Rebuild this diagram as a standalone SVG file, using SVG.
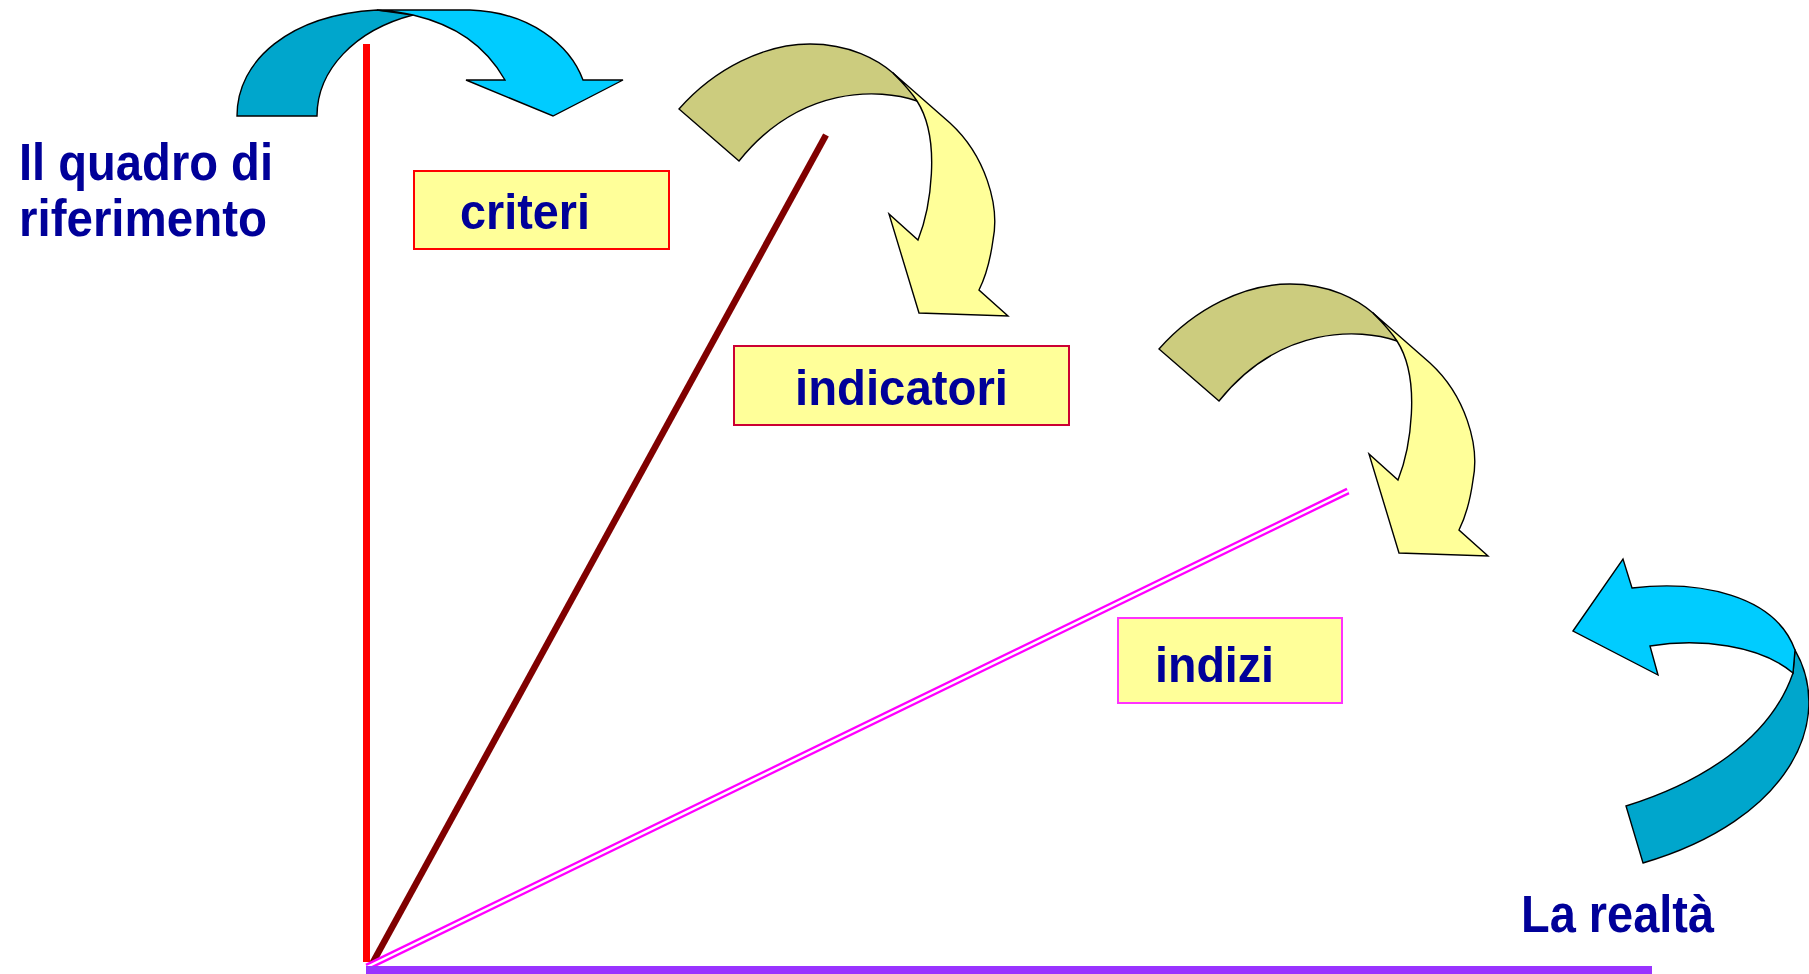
<svg xmlns="http://www.w3.org/2000/svg" xmlns:xlink="http://www.w3.org/1999/xlink" width="1809" height="974" viewBox="0 0 1809 974">
<style>
.lbl{font-family:"Liberation Sans",Arial,sans-serif;font-weight:bold;fill:#000099;}
.arr{stroke:#000;stroke-width:1.4;stroke-linejoin:miter;}
.cyan{fill:#00CCFF;}
.teal{fill:#00A6CC;}
.olive{fill:#CCCC7E;}
.yel{fill:#FFFF99;}
.box{fill:#FFFF99;stroke-width:2;}
</style>
<defs>
<g id="olivearrow">
<path class="arr olive" d="M679,109 C715,68 765,44 810,44 C850,44 878,60 893,73 C905,84 913,93 917,101 C880,88 800,85 739,161 Z"/>
<path class="arr yel" d="M893,73 L950,123 C985,155 1000,205 993,240 C990,262 985,278 979,290 L1008,316 L919,313 L889,214 L918,240 C930,210 942,140 917,101 C910,90 900,80 893,73 Z"/>
</g>
</defs>
<rect width="1809" height="974" fill="#fff"/>
<g id="lines">
<line x1="366.5" y1="44" x2="366.5" y2="962" stroke="#FF0000" stroke-width="7"/>
<line x1="372" y1="964" x2="826" y2="135" stroke="#800000" stroke-width="6.5"/>
<line x1="367" y1="967" x2="1348" y2="491" stroke="#FF00FF" stroke-width="7"/>
<line x1="367" y1="967" x2="1348" y2="491" stroke="#fff" stroke-width="2.4"/>
<line x1="366" y1="970" x2="1652" y2="970" stroke="#9933FF" stroke-width="8"/>
</g>
<g id="arrow-top">
<path class="arr teal" d="M237,116 C237,60 290,15 377,10 L413,15 C355,30 317,70 317,116 Z"/>
<path class="arr cyan" d="M377,10 L470,10 C530,12 570,45 583,80 L623,80 L553,116 L466,80 L505,80 C485,45 455,25 413,15 C400,12 390,11 377,10 Z"/>
</g>
<g id="arrow-criteri"><use xlink:href="#olivearrow"/></g>
<g id="arrow-indicatori"><use xlink:href="#olivearrow" transform="translate(480,240)"/></g>
<g id="arrow-realta">
<path class="arr teal" d="M1795,650 C1835,720 1790,820 1643,863 L1626,806 C1700,783 1770,740 1793,673 Z"/>
<path class="arr cyan" d="M1573,631 L1623,559 L1632,588 C1700,580 1775,595 1795,650 L1793,673 C1760,645 1700,638 1650,646 L1658,675 Z"/>
</g>
<g id="label-quadro">
<text class="lbl" transform="translate(19,180) scale(1,1.12)" font-size="46" textLength="254" lengthAdjust="spacingAndGlyphs">Il quadro di</text>
<text class="lbl" transform="translate(19,236) scale(1,1.12)" font-size="46" textLength="248" lengthAdjust="spacingAndGlyphs">riferimento</text>
</g>
<g id="node-criteri">
<rect class="box" x="414" y="171" width="255" height="78" stroke="#FF0000"/>
<text class="lbl" transform="translate(460,229) scale(1,1.06)" font-size="48" textLength="130" lengthAdjust="spacingAndGlyphs">criteri</text>
</g>
<g id="node-indicatori">
<rect class="box" x="734" y="346" width="335" height="79" stroke="#CC0033"/>
<text class="lbl" transform="translate(795,405) scale(1,1.06)" font-size="48" textLength="213" lengthAdjust="spacingAndGlyphs">indicatori</text>
</g>
<g id="node-indizi">
<rect class="box" x="1118" y="618" width="224" height="85" stroke="#FF33FF"/>
<text class="lbl" transform="translate(1155,682) scale(1,1.06)" font-size="48" textLength="119" lengthAdjust="spacingAndGlyphs">indizi</text>
</g>
<g id="label-realta">
<text class="lbl" transform="translate(1521,932) scale(1,1.04)" font-size="50" textLength="193" lengthAdjust="spacingAndGlyphs">La realtà</text>
</g>
</svg>
